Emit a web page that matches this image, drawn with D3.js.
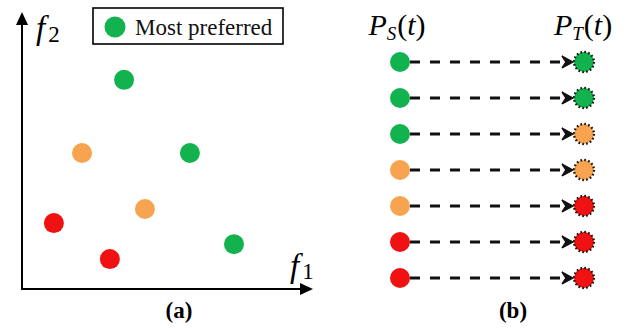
<!DOCTYPE html>
<html><head><meta charset="utf-8">
<script src="https://cdn.jsdelivr.net/npm/d3@7"></script>
</head><body style="margin:0;background:#fff">
<svg id="c" width="630" height="330"></svg>
<script>
// ---- Data ----
// Panel (a): objective-space points (f1, f2 in 0..100 units) and preference class
const ptF1 = [35.2, 20.7, 57.9, 11.0, 42.4, 73.1, 30.3];
const ptF2 = [75.5, 49.1, 49.1, 23.8, 28.9, 16.2, 10.8];
const ptClass = ["most", "mid", "most", "least", "mid", "most", "least"];
// Panel (b): source and target population classes, row by row
const srcClass = ["most", "most", "most", "mid", "mid", "least", "least"];
const tgtClass = ["most", "most", "mid", "mid", "least", "least", "least"];
const columns = ["PS", "PT"];
const legendLabel = "Most preferred";
const panelLabels = ["(a)", "(b)"];

const colors = {most: "#12b24f", mid: "#f7a350", least: "#f01212"};
const FONT = '"Liberation Serif"';

const svg = d3.select("#c");

// ---- Panel (a) ----
const x = d3.scaleLinear().domain([0, 100]).range([22, 312]);
const y = d3.scaleLinear().domain([0, 100]).range([289, 12]);

const gA = svg.append("g");
gA.append("line").attr("x1", x(0)).attr("y1", y(0)).attr("x2", x(0)).attr("y2", y(100) + 10)
  .attr("stroke", "#000").attr("stroke-width", 2);
gA.append("line").attr("x1", x(0) - 1).attr("y1", y(0)).attr("x2", x(100) - 10).attr("y2", y(0))
  .attr("stroke", "#000").attr("stroke-width", 2);
gA.append("path").attr("d", `M${x(0)},${y(100)} L${x(0) - 6},${y(100) + 13} L${x(0) + 6},${y(100) + 13} Z`).attr("fill", "#000");
gA.append("path").attr("d", `M${x(100) + 1},${y(0)} L${x(100) - 12},${y(0) - 6} L${x(100) - 12},${y(0) + 6} Z`).attr("fill", "#000");

const f2 = gA.append("text").attr("x", 36).attr("y", 39).style("font-family", FONT).style("font-size", "33px");
f2.append("tspan").style("font-style", "italic").text("f");
f2.append("tspan").style("font-size", "23px").attr("dx", 3).attr("dy", 3).text("2");
const f1 = gA.append("text").attr("x", 290).attr("y", 277).style("font-family", FONT).style("font-size", "33px");
f1.append("tspan").style("font-style", "italic").text("f");
f1.append("tspan").style("font-size", "23px").attr("dx", 3).attr("dy", 2).text("1");

gA.selectAll("circle.pt").data(ptF1.map((v, i) => ({f1: v, f2: ptF2[i], c: ptClass[i]})))
  .join("circle").attr("class", "pt")
  .attr("cx", d => x(d.f1)).attr("cy", d => y(d.f2)).attr("r", 10)
  .attr("fill", d => colors[d.c]);

const lg = gA.append("g");
lg.append("rect").attr("x", 93).attr("y", 8).attr("width", 190).attr("height", 36)
  .attr("fill", "#fff").attr("stroke", "#000").attr("stroke-width", 1.6);
lg.append("circle").attr("cx", 115).attr("cy", 27).attr("r", 10.5).attr("fill", colors.most);
lg.append("text").attr("x", 135).attr("y", 35).style("font-family", FONT).style("font-size", "23px")
  .attr("fill", "#111").text(legendLabel);

// ---- Panel (b) ----
const bx = d3.scalePoint().domain(columns).range([400, 584]);
const by = d3.scalePoint().domain(d3.range(srcClass.length)).range([62, 278]);
const gB = svg.append("g");

function header(xc, sub) {
  const t = gB.append("text").attr("x", xc).attr("y", 35).attr("text-anchor", "middle")
    .style("font-family", FONT).style("font-size", "30px");
  t.append("tspan").style("font-style", "italic").text("P");
  t.append("tspan").style("font-style", "italic").style("font-size", "19px").attr("dy", 5).text(sub);
  t.append("tspan").attr("dy", -5).attr("dx", 1).text("(");
  t.append("tspan").style("font-style", "italic").text("t");
  t.append("tspan").text(")");
}
header(bx("PS") - 3, "S");
header(bx("PT") - 1, "T");

const rows = d3.range(srcClass.length).map(i => ({i, s: srcClass[i], t: tgtClass[i]}));
const rowG = gB.selectAll("g.row").data(rows).join("g").attr("class", "row")
  .attr("transform", d => `translate(0,${by(d.i)})`);

rowG.append("line").attr("x1", bx("PS") + 10).attr("x2", bx("PT") - 18)
  .attr("y1", 0).attr("y2", 0).attr("stroke", "#111").attr("stroke-width", 3)
  .attr("stroke-dasharray", "10 10");
rowG.append("path")
  .attr("d", `M${bx("PT") - 11},0 L${bx("PT") - 22},-6 L${bx("PT") - 18},0 L${bx("PT") - 22},6 Z`)
  .attr("fill", "#111").attr("stroke", "#111").attr("stroke-width", 1.4).attr("stroke-linejoin", "miter");
rowG.append("circle").attr("cx", bx("PS")).attr("cy", 0).attr("r", 10).attr("fill", d => colors[d.s]);
const C = 2 * Math.PI * 10;
rowG.append("circle").attr("cx", bx("PT")).attr("cy", 0).attr("r", 10).attr("fill", d => colors[d.t])
  .attr("stroke", "#111").attr("stroke-width", 2.3)
  .attr("stroke-dasharray", `${(C / 16) * 0.42} ${(C / 16) * 0.58}`);

svg.selectAll("text.plabel").data(panelLabels).join("text").attr("class", "plabel")
  .attr("x", (d, i) => i === 0 ? 179 : 513).attr("y", 318).attr("text-anchor", "middle")
  .style("font-family", FONT).style("font-weight", "bold").style("font-size", "23px").text(d => d);
</script>
</body></html>
